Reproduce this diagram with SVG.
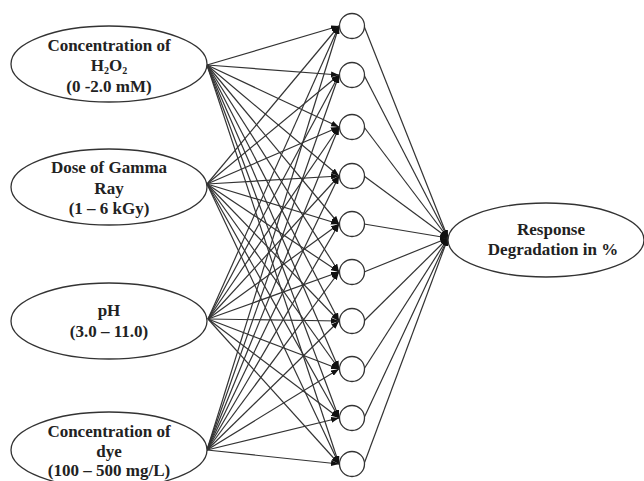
<svg xmlns="http://www.w3.org/2000/svg" width="644" height="481" viewBox="0 0 644 481">
<style>
.nd{fill:#fff;stroke:#333;stroke-width:1.3}
.t{font-family:"Liberation Serif","Times New Roman",serif;font-weight:bold;font-size:17px;fill:#222;text-anchor:middle}
.sub{font-size:10px}
.c line{stroke:#333;stroke-width:1.2;marker-end:url(#ah)}
</style>
<defs>
<marker id="ah" markerUnits="userSpaceOnUse" markerWidth="8" markerHeight="6" refX="8" refY="3" orient="auto">
<path d="M0,0 L8,3 L0,6 Z" fill="#111"/>
</marker>
</defs>
<rect width="644" height="481" fill="#fff"/>
<g id="connectors" class="c">
<line x1="207" y1="65" x2="339" y2="26"/>
<line x1="207" y1="65" x2="339" y2="75"/>
<line x1="207" y1="65" x2="339" y2="127"/>
<line x1="207" y1="65" x2="339" y2="176"/>
<line x1="207" y1="65" x2="339" y2="224"/>
<line x1="207" y1="65" x2="339" y2="272"/>
<line x1="207" y1="65" x2="339" y2="321"/>
<line x1="207" y1="65" x2="339" y2="369"/>
<line x1="207" y1="65" x2="339" y2="418"/>
<line x1="207" y1="65" x2="339" y2="464"/>
<line x1="207" y1="184" x2="339" y2="26"/>
<line x1="207" y1="184" x2="339" y2="75"/>
<line x1="207" y1="184" x2="339" y2="127"/>
<line x1="207" y1="184" x2="339" y2="176"/>
<line x1="207" y1="184" x2="339" y2="224"/>
<line x1="207" y1="184" x2="339" y2="272"/>
<line x1="207" y1="184" x2="339" y2="321"/>
<line x1="207" y1="184" x2="339" y2="369"/>
<line x1="207" y1="184" x2="339" y2="418"/>
<line x1="207" y1="184" x2="339" y2="464"/>
<line x1="208" y1="319" x2="339" y2="26"/>
<line x1="208" y1="319" x2="339" y2="75"/>
<line x1="208" y1="319" x2="339" y2="127"/>
<line x1="208" y1="319" x2="339" y2="176"/>
<line x1="208" y1="319" x2="339" y2="224"/>
<line x1="208" y1="319" x2="339" y2="272"/>
<line x1="208" y1="319" x2="339" y2="321"/>
<line x1="208" y1="319" x2="339" y2="369"/>
<line x1="208" y1="319" x2="339" y2="418"/>
<line x1="208" y1="319" x2="339" y2="464"/>
<line x1="207" y1="450" x2="339" y2="26"/>
<line x1="207" y1="450" x2="339" y2="75"/>
<line x1="207" y1="450" x2="339" y2="127"/>
<line x1="207" y1="450" x2="339" y2="176"/>
<line x1="207" y1="450" x2="339" y2="224"/>
<line x1="207" y1="450" x2="339" y2="272"/>
<line x1="207" y1="450" x2="339" y2="321"/>
<line x1="207" y1="450" x2="339" y2="369"/>
<line x1="207" y1="450" x2="339" y2="418"/>
<line x1="207" y1="450" x2="339" y2="464"/>
<line x1="364" y1="26" x2="448" y2="238"/>
<line x1="364" y1="75" x2="448" y2="238"/>
<line x1="364" y1="127" x2="448" y2="238"/>
<line x1="364" y1="176" x2="448" y2="238"/>
<line x1="364" y1="224" x2="448" y2="238"/>
<line x1="364" y1="272" x2="448" y2="238"/>
<line x1="364" y1="321" x2="448" y2="238"/>
<line x1="364" y1="369" x2="448" y2="238"/>
<line x1="364" y1="418" x2="448" y2="238"/>
<line x1="364" y1="464" x2="448" y2="238"/>
</g>
<g id="in1"><ellipse class="nd" cx="109" cy="64" rx="98" ry="38"/>
<text class="t" x="109" y="51">Concentration of</text>
<text class="t" x="109" y="71">H<tspan class="sub" dy="3">2</tspan><tspan dy="-3">O</tspan><tspan class="sub" dy="3">2</tspan></text>
<text class="t" x="109" y="92">(0 -2.0 mM)</text></g>
<g id="in2"><ellipse class="nd" cx="109" cy="187" rx="98" ry="38"/>
<text class="t" x="109" y="173">Dose of Gamma</text>
<text class="t" x="109" y="194">Ray</text>
<text class="t" x="109" y="214">(1 – 6 kGy)</text></g>
<g id="in3"><ellipse class="nd" cx="109" cy="321" rx="98" ry="38"/>
<text class="t" x="109" y="316">pH</text>
<text class="t" x="109" y="337">(3.0 – 11.0)</text></g>
<g id="in4"><ellipse class="nd" cx="109" cy="450" rx="98" ry="38"/>
<text class="t" x="109" y="437">Concentration of</text>
<text class="t" x="109" y="457">dye</text>
<text class="t" x="109" y="476">(100 – 500 mg/L)</text></g>
<g id="h1"><circle class="nd" cx="352" cy="26" r="12.5"/></g>
<g id="h2"><circle class="nd" cx="352" cy="75" r="12.5"/></g>
<g id="h3"><circle class="nd" cx="352" cy="127" r="12.5"/></g>
<g id="h4"><circle class="nd" cx="352" cy="176" r="12.5"/></g>
<g id="h5"><circle class="nd" cx="352" cy="224" r="12.5"/></g>
<g id="h6"><circle class="nd" cx="352" cy="272" r="12.5"/></g>
<g id="h7"><circle class="nd" cx="352" cy="321" r="12.5"/></g>
<g id="h8"><circle class="nd" cx="352" cy="369" r="12.5"/></g>
<g id="h9"><circle class="nd" cx="352" cy="418" r="12.5"/></g>
<g id="h10"><circle class="nd" cx="352" cy="464" r="12.5"/></g>
<g id="out"><ellipse class="nd" cx="546" cy="240" rx="98" ry="37"/>
<text class="t" x="551" y="235">Response</text>
<text class="t" x="553" y="255">Degradation in %</text></g>
</svg>
